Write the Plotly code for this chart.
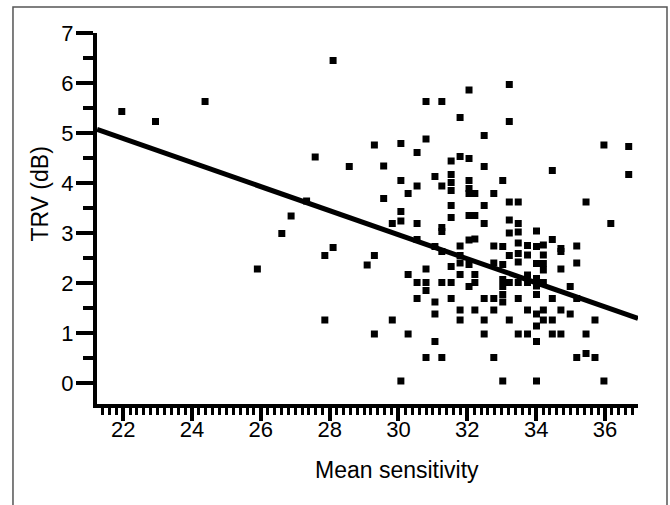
import plotly.graph_objects as go

# Mean sensitivity (x) and TRV in dB (y)
mean_sensitivity = [
    21.96, 22.94, 24.38, 28.10, 27.58, 27.33, 26.88, 26.61, 28.10, 25.90,
    27.86, 27.86, 29.30, 28.57, 29.30, 29.09, 29.30,
    32.05, 33.22, 30.80, 31.26, 31.79, 33.22, 32.49, 30.80, 30.07, 30.54,
    29.57, 31.53, 31.79, 32.05, 32.49, 30.07, 30.54, 31.06, 31.53, 31.53,
    31.26, 31.53, 32.05, 32.05, 32.05, 32.22, 33.03, 32.77, 29.57, 30.28,
    31.53, 32.49, 33.22, 30.07, 30.07, 29.82, 30.54, 31.53, 32.05, 32.22,
    32.49, 33.22, 31.26, 31.26, 33.22, 30.54, 31.06, 31.79, 32.05, 32.22,
    32.77, 33.03, 33.48, 33.48, 33.48, 33.48, 33.75, 34.01, 34.01, 34.21,
    34.47, 34.47, 34.72, 35.18, 35.45, 35.97, 36.17, 36.69, 36.69,
    31.26, 31.79, 33.22, 30.80, 30.28, 31.53, 31.79, 32.05, 31.79, 32.22,
    32.77, 33.03, 30.54, 30.80, 30.80, 31.26, 31.53, 32.22, 32.05, 33.03,
    33.03, 33.03, 33.03, 30.54, 31.06, 31.53, 32.49, 32.77, 31.06, 31.79,
    32.22, 32.77, 29.82, 31.79, 32.49, 33.22, 30.28, 32.49, 31.06, 30.80,
    31.26, 32.77, 30.07, 33.03,
    34.21, 33.48, 33.48, 33.75, 34.01, 34.21, 34.21, 34.72, 34.72, 35.18,
    33.75, 33.22, 33.48, 33.75, 34.01, 34.01, 34.21, 34.99, 35.18, 33.48,
    34.01, 34.47, 33.75, 34.01, 34.21, 34.72, 34.99, 34.01, 34.21, 34.47,
    35.71, 33.48, 33.75, 34.47, 34.72, 35.45, 34.01, 35.18, 35.45, 35.71,
    34.01, 35.97,
]
trv_db = [
    5.43, 5.23, 5.63, 6.45, 4.52, 3.64, 3.34, 2.99, 2.71, 2.28,
    2.55, 1.26, 4.76, 4.33, 2.55, 2.36, 0.98,
    5.86, 5.97, 5.63, 5.63, 5.31, 5.23, 4.95, 4.88, 4.79, 4.61,
    4.34, 4.44, 4.53, 4.49, 4.33, 4.05, 3.94, 4.13, 4.17, 4.01,
    3.94, 3.85, 4.05, 3.89, 3.79, 3.79, 4.05, 3.79, 3.69, 3.79,
    3.55, 3.55, 3.62, 3.43, 3.24, 3.19, 3.19, 3.31, 3.35, 3.35,
    3.19, 3.26, 3.11, 3.03, 3.00, 2.87, 2.73, 2.74, 2.86, 2.88,
    2.74, 2.73, 3.19, 3.02, 2.80, 3.62, 2.75, 3.04, 2.73, 2.76,
    2.87, 4.25, 2.69, 2.74, 3.62, 4.76, 3.19, 4.73, 4.17,
    2.63, 2.55, 2.55, 2.28, 2.17, 2.33, 2.40, 2.37, 2.17, 2.17,
    2.40, 2.37, 2.01, 2.01, 1.85, 2.01, 2.01, 2.01, 1.93, 2.07,
    1.93, 1.77, 1.62, 1.69, 1.62, 1.69, 1.69, 1.69, 1.38, 1.46,
    1.46, 1.46, 1.26, 1.26, 1.26, 1.26, 0.98, 0.98, 0.83, 0.51,
    0.51, 0.51, 0.04, 0.04,
    2.56, 2.59, 2.42, 2.56, 2.39, 2.39, 2.26, 2.63, 2.28, 2.40,
    2.16, 2.01, 2.01, 2.01, 2.09, 1.94, 2.01, 1.93, 1.69, 1.69,
    1.77, 1.69, 1.46, 1.38, 1.46, 1.46, 1.38, 1.14, 1.26, 1.26,
    1.26, 0.98, 0.98, 0.98, 0.98, 0.98, 0.83, 0.51, 0.59, 0.51,
    0.04, 0.04,
]

# regression line parameters
fit_intercept = 10.18
fit_slope = -0.2405

x_range = [21.24, 36.96]
y_range = [-0.42, 7.0]

x_tickvals = [22, 24, 26, 28, 30, 32, 34, 36]
y_tickvals = [0, 1, 2, 3, 4, 5, 6, 7]

x_title = "Mean sensitivity"
y_title = "TRV (dB)"

FONT = "Liberation Sans, Arial, sans-serif"

fit_x = x_range
fit_y = [fit_intercept + fit_slope * v for v in fit_x]

fig = go.Figure()
fig.add_trace(go.Scatter(
    x=fit_x, y=fit_y, mode="lines",
    line=dict(color="black", width=5),
    hoverinfo="skip", showlegend=False, cliponaxis=False,
))
fig.add_trace(go.Scatter(
    x=mean_sensitivity, y=trv_db, mode="markers",
    marker=dict(symbol="square", size=7, color="black", line=dict(width=0)),
    showlegend=False, cliponaxis=False,
))

fig.update_layout(
    width=670, height=505,
    margin=dict(l=97, r=32, t=33, b=101),
    paper_bgcolor="white", plot_bgcolor="white",
    font=dict(family=FONT, size=22, color="black"),
    xaxis=dict(
        range=x_range, showgrid=False, zeroline=False,
        showline=True, linewidth=4, linecolor="black",
        tickmode="array", tickvals=x_tickvals,
        ticks="outside", ticklen=13, tickwidth=4, tickcolor="black",
        ticklabelstandoff=-10,
        tickfont=dict(family=FONT, size=22, color="black"),
        minor=dict(dtick=0.2, tick0=0, ticks="outside", ticklen=7,
                   tickwidth=3, tickcolor="black", showgrid=False),
    ),
    yaxis=dict(
        range=y_range, showgrid=False, zeroline=False,
        showline=True, linewidth=4, linecolor="black",
        tickmode="array", tickvals=y_tickvals,
        ticks="outside", ticklen=17, tickwidth=4, tickcolor="black",
        ticklabelstandoff=-2,
        tickfont=dict(family=FONT, size=22, color="black"),
        minor=dict(dtick=0.5, tick0=0, ticks="outside", ticklen=10,
                   tickwidth=4, tickcolor="black", showgrid=False),
    ),
    annotations=[
        dict(text=x_title, xref="paper", yref="paper", x=0.5545, y=-0.178,
             xanchor="center", yanchor="middle", showarrow=False,
             font=dict(family=FONT, size=23, color="black")),
        dict(text=y_title, xref="paper", yref="paper", x=-0.1054, y=0.567,
             xanchor="center", yanchor="middle", showarrow=False, textangle=-90,
             font=dict(family=FONT, size=23, color="black")),
    ],
    shapes=[
        dict(type="rect", xref="paper", yref="paper",
             x0=-0.1553, x1=1.0536, y0=-0.32, y1=1.0701,
             line=dict(color="#555555", width=1.5), layer="below"),
        dict(type="line", xref="paper", yref="y",
             x0=-0.022, x1=-0.006, y0=-0.5, y1=-0.5,
             line=dict(color="black", width=4)),
    ],
)

fig.write_html(
    "out.html",
    config={"displayModeBar": False},
    post_script="document.body.style.margin='0';document.body.style.overflow='hidden';",
)
